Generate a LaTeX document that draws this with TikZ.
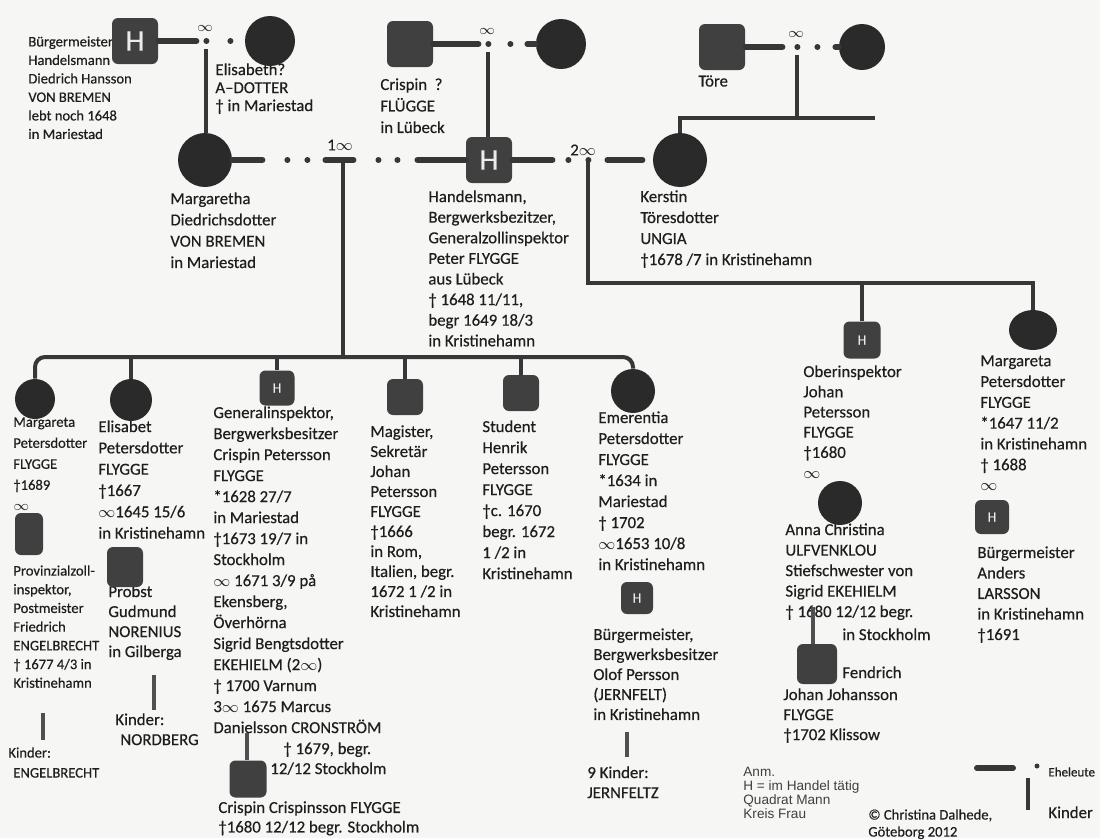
\documentclass[tikz,border=0pt]{standalone}
\usepackage{fontspec}
\usetikzlibrary{shapes.geometric}
\setmainfont{Carlito}[FakeBold=0.4]
\newfontfamily\arialf{Liberation Sans}
\newcommand{\oo}{\ensuremath{\infty}}
\definecolor{bgc}{RGB}{246,246,244}
\definecolor{ink}{RGB}{30,30,30}
\definecolor{sqc}{RGB}{64,64,64}
\definecolor{circc}{RGB}{42,42,42}
\definecolor{lnc}{RGB}{55,55,55}
\definecolor{gk}{RGB}{80,80,80}
\definecolor{hwhite}{RGB}{235,235,235}
\begin{document}
\begin{tikzpicture}[x=0.5pt,y=-0.5pt,
 man/.style={rectangle, rounded corners=3pt, fill=sqc, inner sep=0pt, minimum size=#1, text=hwhite, font=\fontsize{15}{15}\selectfont},
 sman/.style={man=#1, font=\fontsize{7}{7}\selectfont},
 woman/.style={circle, fill=circc, inner sep=0pt, minimum size=#1},
 txt/.style={anchor=north west, inner sep=0pt, align=left, text=ink, font=\fontsize{8.4}{10.4}\selectfont},
 ls/.style={font=\fontsize{8.4}{#1}\selectfont},
 stxt/.style={txt, font=\fontsize{7.3}{#1}\selectfont},
 inf/.style={inner sep=0pt, text=ink, font=\fontsize{7}{7}\selectfont},
 bond/.style={line width=3pt, draw=lnc, line cap=round},
 kid/.style={line width=2pt, draw=lnc},
 gkid/.style={line width=1.6pt, draw=gk}]
\fill[bgc] (0,0) rectangle (1100,838);

% ---------- texts ----------
\node[stxt=9.25pt] (tdied) at (28,36) {Bürgermeister\\Handelsmann\\Diedrich Hansson\\VON BREMEN\\lebt noch 1648\\in Mariestad};
\node[txt, ls=9pt] (telis) at (215,63) {Elisabeth?\\A–DOTTER\\† in Mariestad};
\node[txt, ls=10.75pt] (tcrsr) at (380,78) {Crispin\ \ ?\\FLÜGGE\\in Lübeck};
\node[txt] (ttore) at (698,75) {Töre};
\node[txt, ls=10.65pt] (tmarg) at (170,192) {Margaretha\\Diedrichsdotter\\VON BREMEN\\in Mariestad};
\node[txt, ls=10.3pt] (tpeter) at (428,190) {Handelsmann,\\Bergwerksbezitzer,\\Generalzollinspektor\\Peter FLYGGE\\aus Lübeck\\† 1648 11/11,\\begr 1649 18/3\\in Kristinehamn};
\node[txt, ls=10.5pt] (tkerstin) at (640,190) {Kerstin\\Töresdotter\\UNGIA\\†1678 /7 in Kristinehamn};

\node[stxt=10.5pt] (tmarg2) at (13,417) {Margareta\\Petersdotter\\FLYGGE\\†1689\\\oo};
\node[stxt=9.35pt] (tengel) at (13,565) {Provinzialzoll-\\inspektor,\\Postmeister\\Friedrich\\ENGELBRECHT\\† 1677 4/3 in\\Kristinehamn};
\node[stxt=10pt] (tengelk) at (8,747) {Kinder:\\\hspace*{2.5pt}ENGELBRECHT};
\node[txt, ls=10.65pt] (telis2) at (98,420) {Elisabet\\Petersdotter\\FLYGGE\\†1667\\\oo1645 15/6\\in Kristinehamn};
\node[txt, ls=10pt] (tnoren) at (108,585) {Probst\\Gudmund\\NORENIUS\\in Gilberga};
\node[txt, ls=10pt] (tnorenk) at (115,713) {Kinder:\\\hspace*{2.5pt}NORDBERG};
\node[txt, ls=10.5pt] (tcr2) at (213,406) {Generalinspektor,\\Bergwerksbesitzer\\Crispin Petersson\\FLYGGE\\*1628 27/7\\in Mariestad\\†1673 19/7 in\\Stockholm\\\oo{} 1671 3/9 på\\Ekensberg,\\Överhörna\\Sigrid Bengtsdotter\\EKEHIELM (2\oo)\\† 1700 Varnum\\3\oo{} 1675 Marcus\\Danielsson CRONSTRÖM};
\node[txt, ls=10pt] (tcr2b) at (270,742) {\hspace*{6.5pt}† 1679, begr.\\12/12 Stockholm};
\node[txt, ls=9.75pt] (tcr3) at (218,801) {Crispin Crispinsson FLYGGE\\†1680 12/12 begr. Stockholm};
\node[txt, ls=10pt] (tjoh2) at (370,425) {Magister,\\Sekretär\\Johan\\Petersson\\FLYGGE\\†1666\\in Rom,\\Italien, begr.\\1672 1 /2 in\\Kristinehamn};
\node[txt, ls=10.5pt] (thenr) at (482,420) {Student\\Henrik\\Petersson\\FLYGGE\\†c. 1670\\begr. 1672\\1 /2 in\\Kristinehamn};
\node[txt, ls=10.5pt] (temer) at (598,411) {Emerentia\\Petersdotter\\FLYGGE\\*1634 in\\Mariestad\\† 1702\\\oo1653 10/8\\in Kristinehamn};
\node[txt, ls=10pt] (tjern) at (593,628) {Bürgermeister,\\Bergwerksbesitzer\\Olof Persson\\(JERNFELT)\\in Kristinehamn};
\node[txt, ls=10pt] (tjernk) at (587,766) {9 Kinder:\\JERNFELTZ};
\node[txt, ls=10.1pt] (tjoh3) at (803,365) {Oberinspektor\\Johan\\Petersson\\FLYGGE\\†1680\\\oo};
\node[txt, ls=10.25pt] (tanna) at (785,523) {Anna Christina\\ULFVENKLOU\\Stiefschwester von\\Sigrid EKEHIELM\\† 1680 12/12 begr.};
\node[txt] (tanna2) at (842,628) {in Stockholm};
\node[txt] (tfend) at (842,666) {Fendrich};
\node[txt, ls=10pt] (tfend2) at (783,688) {Johan Johansson\\FLYGGE\\†1702 Klissow};
\node[txt, ls=10.4pt] (tmarg3) at (980,355) {Margareta\\Petersdotter\\FLYGGE\\*1647 11/2\\in Kristinehamn\\† 1688\\\oo};
\node[txt, ls=10.25pt] (tlars) at (977,546) {Bürgermeister\\Anders\\LARSSON\\in Kristinehamn\\†1691};

% legend texts
\node[anchor=north west, inner sep=0pt, align=left, text=ink!85, font={\arialf\fontsize{6.8}{7}\selectfont}] (tanm) at (743,767) {Anm.\\H = im Handel tätig\\Quadrat Mann\\Kreis Frau};
\node[stxt=8.5pt] (tcopy) at (868,809) {© Christina Dalhede,\\Göteborg 2012};
\node[anchor=north west, inner sep=0pt, text=ink, font=\fontsize{6.5}{7}\selectfont] (tehe) at (1048,767) {Eheleute};
\node[txt] (tkind) at (1048,806) {Kinder};

% ---------- persons ----------
\node[man=23pt] (diedrich) at (135,41) {H};
\node[woman=25pt] (elisabeth) at (270,41) {};
\node[man=23pt] (crispinsr) at (410,44) {};
\node[woman=25pt] (crispinwife) at (561,44) {};
\node[man=23pt] (tore) at (722,47) {};
\node[woman=23pt] (torewife) at (862,47) {};

\node[woman=27pt] (margaretha) at (205,160) {};
\node[man=23pt] (peter) at (489,160) {H};
\node[woman=27pt] (kerstin) at (680,160) {};

\node[woman=20pt] (marg2) at (35,399) {};
\node[woman=21pt] (elis2) at (131,400) {};
\node[sman=17.5pt] (crispin2) at (277,388) {H};
\node[man=18pt] (johan2) at (405,397) {};
\node[man=18pt] (henrik) at (521,393) {};
\node[woman=22pt] (emer) at (633,391) {};

\node[sman=18.5pt] (johan3) at (862,340) {H};
\node[ellipse, fill=circc, inner sep=0pt, minimum width=24pt, minimum height=20pt] (marg3) at (1033,330) {};

\node[rectangle, rounded corners=3pt, fill=sqc, minimum width=14pt, minimum height=21pt, inner sep=0pt] (engel) at (29,534) {};
\node[rectangle, rounded corners=3pt, fill=sqc, minimum width=18pt, minimum height=20pt, inner sep=0pt] (noren) at (125,567) {};
\node[man=18.5pt] (crispin3) at (248,779) {};
\node[sman=16pt] (jern) at (637,598) {H};
\node[woman=22pt] (anna) at (840,503) {};
\node[man=20pt] (fendrich) at (817,664) {};
\node[sman=17pt] (larsson) at (992,517) {H};

% ---------- marriage lines ----------
\draw[bond, dash pattern=on 19pt off 5pt on 0.01pt off 12pt on 0.01pt off 20pt] (diedrich.east) -- (elisabeth.west);
\draw[bond, dash pattern=on 22.5pt off 5pt on 0.01pt off 11pt on 0.01pt off 8.5pt on 10pt] (crispinsr.east) -- (crispinwife.west);
\draw[bond, dash pattern=on 18.5pt off 7.5pt on 0.01pt off 10pt on 0.01pt off 9pt on 10pt] (tore.east) -- (torewife.west);
\draw[bond, dash pattern=on 15pt off 12.5pt on 0.01pt off 10pt on 0.01pt off 9pt on 14pt off 12.5pt on 0.01pt off 9.5pt on 0.01pt off 10pt on 30pt] (margaretha.east) -- (peter.west);
\draw[bond, dash pattern=on 20pt off 8pt on 0.01pt off 10pt on 0.01pt off 9.5pt on 17.5pt off 15pt] (peter.east) -- (kerstin.west);

\node[inf] (inf0) at (205,28) {\oo};
\node[inf] (inf1) at (487,31) {\oo};
\node[inf] (inf2) at (796,34) {\oo};
\node[inf, font=\fontsize{8.4}{8.4}\selectfont] (inf3) at (340,145) {1\oo};
\node[inf, font=\fontsize{8.4}{8.4}\selectfont] (inf4) at (583,150) {2\oo};

% ---------- descent lines ----------
\coordinate (m0) at (206,41);
\coordinate (mc) at (488,44);
\coordinate (mt) at (797,47);
\coordinate (m1) at (343,160);
\coordinate (m2) at (588,160);
\coordinate (tend) at (875,118);
\coordinate (bar1) at (343,357);
\coordinate (bar2) at (588,283);

\draw[kid] ([yshift=-4pt]m0) -- (m0 |- margaretha.north);
\draw[kid] ([yshift=-4pt]mc) -- (mc |- peter.north);
\draw[kid] ([yshift=-4pt]mt) -- (mt |- tend);
\draw[kid] (kerstin.north) |- (tend);
\draw[kid] (m1) -- (bar1);
\draw[kid, rounded corners=5pt] (marg2.north) |- (bar1) -| (emer.north);
\foreach \c in {elis2, crispin2, johan2, henrik} \draw[kid] (\c.north) -- (\c.north |- bar1);
\draw[kid] (m2) -- (bar2) -| (marg3.north);
\draw[kid] (johan3.north) -- (johan3.north |- bar2);

% grandchildren lines
\coordinate (ga) at (43,713); \coordinate (gb) at (43,740);
\draw[gkid] (ga) -- (gb);
\coordinate (gc) at (154,675); \coordinate (gd) at (154,710);
\draw[gkid] (gc) -- (gd);
\coordinate (ge) at (247,733);
\draw[gkid] (ge) -- (ge |- crispin3.north);
\coordinate (gf) at (627,732); \coordinate (gg) at (627,757);
\draw[gkid] (gf) -- (gg);
\coordinate (gh) at (813,607);
\draw[gkid] (gh) -- (gh |- fendrich.north);

% legend marks
\coordinate (lgA) at (977,768); \coordinate (lgB) at (1013,768);
\draw[bond] (lgA) -- (lgB);
\coordinate (lgdot) at (1037,766);
\fill[lnc] (lgdot) circle (2.5);
\coordinate (lgC) at (1028,778); \coordinate (lgD) at (1028,810);
\draw[kid] (lgC) -- (lgD);
\end{tikzpicture}
\end{document}
